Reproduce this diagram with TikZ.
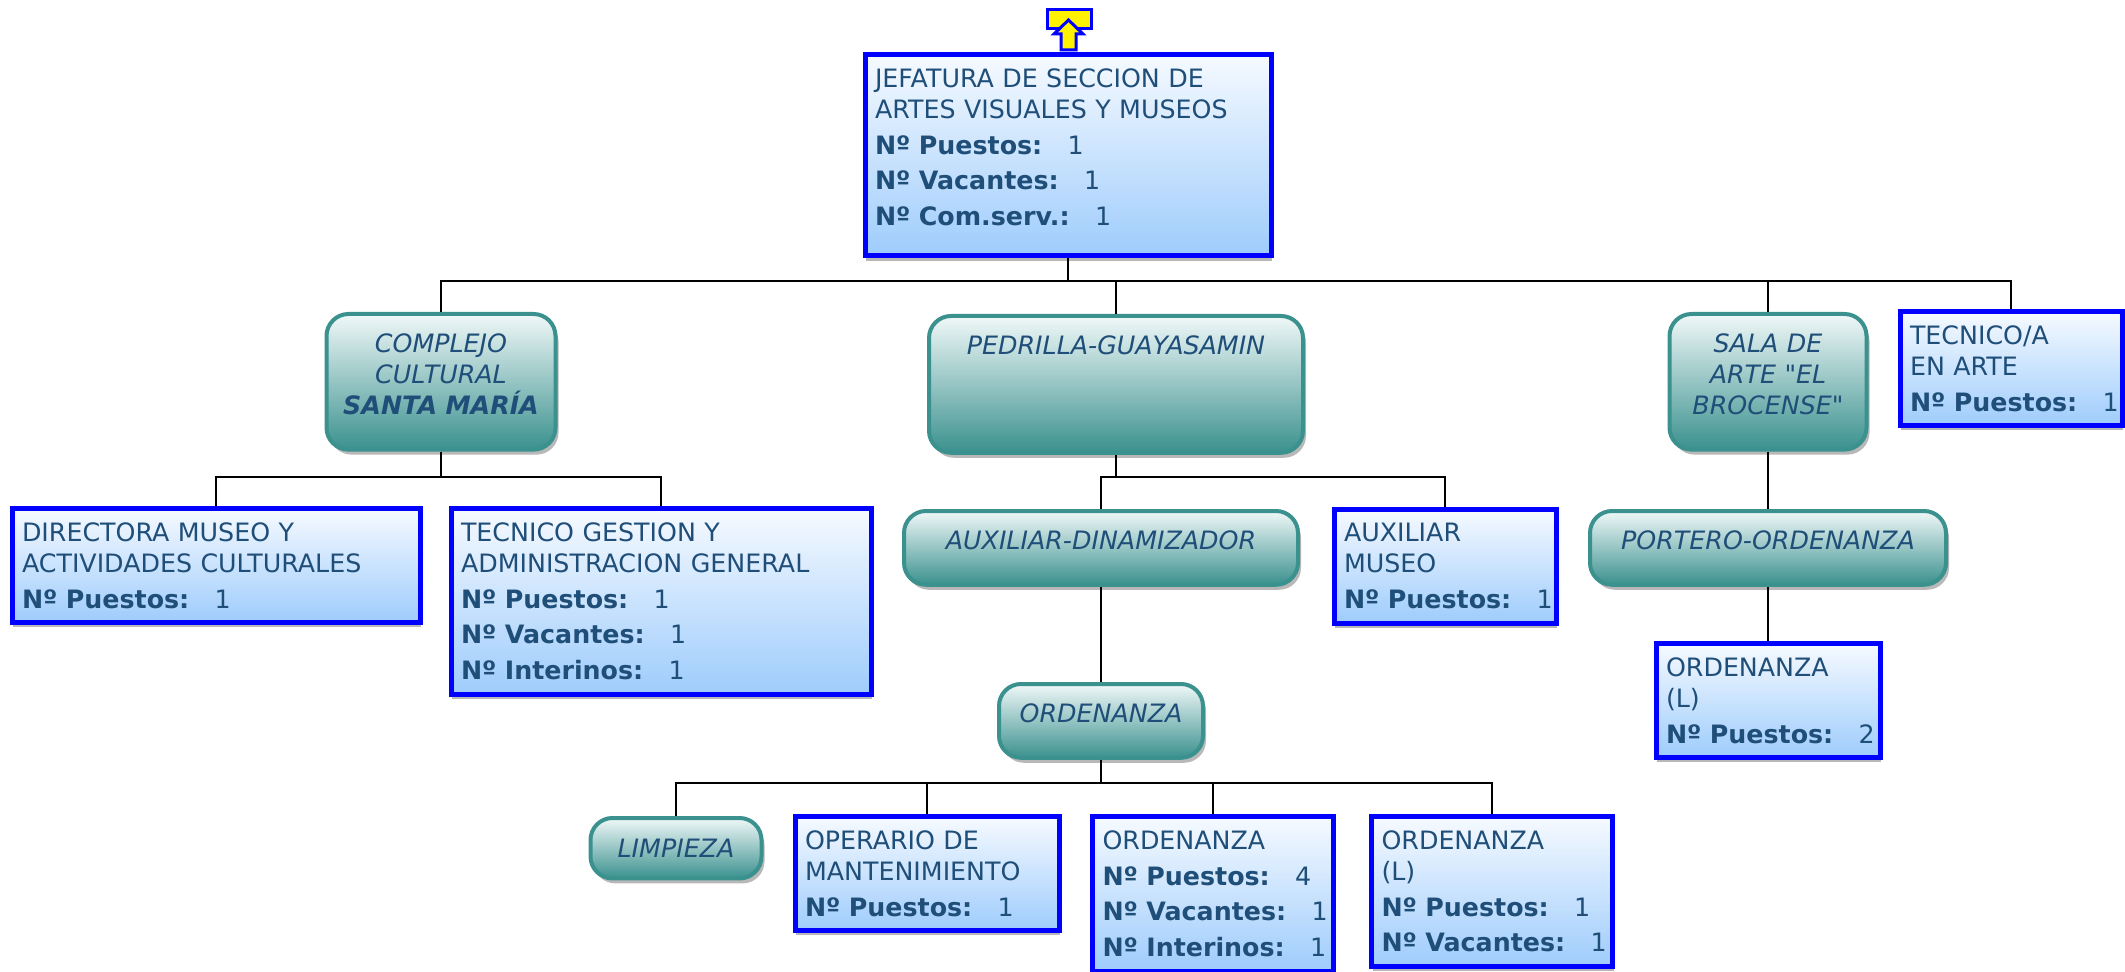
\documentclass[tikz,border=0pt]{standalone}
\usepackage{fontspec}
\setmainfont{DejaVu Sans}[Ligatures=TeXOff]
\usetikzlibrary{shadows}
\definecolor{azultexto}{RGB}{31,78,121}
\definecolor{azulborde}{RGB}{0,0,255}
\definecolor{azulclaro}{RGB}{158,204,252}
\definecolor{azulblanco}{RGB}{246,250,255}
\definecolor{verdeborde}{RGB}{58,145,142}
\definecolor{verdeclaro}{RGB}{240,248,248}
\newcommand{\campo}[2]{\mbox{\textbf{Nº #1:}\quad #2}}
\newcommand{\bajo}[1]{\rule[-#1]{0pt}{#1}}
\tikzset{
  puesto/.style={anchor=north, draw=azulborde, line width=0.5mm,
    top color=azulblanco, bottom color=azulclaro, text=azultexto,
    align=left, text width=#1, inner xsep=1mm, inner ysep=1.4mm,
    font=\fontsize{7.2}{8.8}\selectfont,
    drop shadow={shadow xshift=0.1mm, shadow yshift=-0.5mm, fill=black!28, opacity=1}},
  unidad/.style={anchor=north, draw=verdeborde, line width=0.4mm, rounded corners=2.2mm,
    top color=verdeclaro, bottom color=verdeborde, text=azultexto,
    align=center, text width=#1, inner xsep=1mm, inner ysep=2mm,
    font=\fontsize{7.2}{8.8}\selectfont\itshape,
    drop shadow={shadow xshift=0.3mm, shadow yshift=-0.5mm, fill=black!28, opacity=1}},
  linea/.style={line width=0.6pt, black}
}
\begin{document}
\begin{tikzpicture}[x=0.1mm,y=-0.1mm]
  \useasboundingbox (0,0) rectangle (2125,972);
  \filldraw[fill=yellow, draw=azulborde, line width=0.3mm] (1047,10) rectangle (1091,29);
  \filldraw[fill=yellow, draw=azulborde, line width=0.3mm]
    (1061,50) -- (1061,34) -- (1054,34) -- (1068.5,20) -- (1083,34) -- (1076,34) -- (1076,50) -- cycle;

  \node[puesto=38.6mm] (jefatura) at (1068,52)
    {JEFATURA DE SECCION DE\\ARTES VISUALES Y MUSEOS\\[1.4pt]\campo{Puestos}{1}\\[1.4pt]\campo{Vacantes}{1}\\[1.4pt]\campo{Com.serv.}{1}\bajo{1.6mm}};

  \node[unidad=20.9mm] (complejo) at (441,312) {COMPLEJO\\CULTURAL\\\textbf{SANTA MARÍA}\bajo{1.5mm}};
  \node[unidad=35.4mm] (pedrilla) at (1116,314) {PEDRILLA-GUAYASAMIN\bajo{7.8mm}};
  \node[unidad=17.7mm] (sala) at (1768,312) {SALA DE\\ARTE "EL\\BROCENSE"\bajo{1.5mm}};
  \node[puesto=20.2mm] (tecarte) at (2011,309) {TECNICO/A\\EN ARTE\\[1.4pt]\campo{Puestos}{1}};

  \node[puesto=38.8mm] (directora) at (216,506)
    {DIRECTORA MUSEO Y\\ACTIVIDADES CULTURALES\\[1.4pt]\campo{Puestos}{1}};
  \node[puesto=40mm] (tecgestion) at (661,506)
    {TECNICO GESTION Y\\ADMINISTRACION GENERAL\\[1.4pt]\campo{Puestos}{1}\\[1.4pt]\campo{Vacantes}{1}\\[1.4pt]\campo{Interinos}{1}};
  \node[unidad=37.4mm] (auxdinam) at (1101,509) {AUXILIAR-DINAMIZADOR\bajo{1.5mm}};
  \node[puesto=20.2mm] (auxmuseo) at (1445,507) {AUXILIAR\\MUSEO\\[1.4pt]\campo{Puestos}{1}};
  \node[unidad=33.6mm] (portero) at (1768,509) {PORTERO-ORDENANZA\bajo{1.5mm}};

  \node[unidad=18.4mm] (ordteal) at (1101,682) {ORDENANZA\bajo{1.5mm}};
  \node[puesto=20.4mm] (ordenanzaL2) at (1768,641) {ORDENANZA\\(L)\\[1.4pt]\campo{Puestos}{2}};

  \node[unidad=15.1mm, inner ysep=2.1mm] (limpieza) at (676,816) {LIMPIEZA};
  \node[puesto=24.4mm] (operario) at (927,814) {OPERARIO DE\\MANTENIMIENTO\\[1.4pt]\campo{Puestos}{1}};
  \node[puesto=22.1mm] (ordenanza) at (1213,814)
    {ORDENANZA\\[1.4pt]\campo{Puestos}{4}\\[1.4pt]\campo{Vacantes}{1}\\[1.4pt]\campo{Interinos}{1}};
  \node[puesto=22.1mm] (ordenanzaL) at (1492,814)
    {ORDENANZA\\(L)\\[1.4pt]\campo{Puestos}{1}\\[1.4pt]\campo{Vacantes}{1}};

  \coordinate (nivel1) at (0,281);
  \coordinate (nivel2) at (0,477);
  \coordinate (nivel3) at (0,783);

  \begin{scope}[linea]
    \draw (jefatura.south) to (jefatura.south |- nivel1);
    \draw (complejo.north) |- (tecarte.north |- nivel1) to (tecarte.north);
    \draw (pedrilla.north) to (pedrilla.north |- nivel1);
    \draw (sala.north) to (sala.north |- nivel1);
    \draw (complejo.south) to (complejo.south |- nivel2);
    \draw (directora.north) |- (tecgestion.north |- nivel2) to (tecgestion.north);
    \draw (pedrilla.south) to (pedrilla.south |- nivel2);
    \draw (auxdinam.north) |- (auxmuseo.north |- nivel2) to (auxmuseo.north);
    \draw (auxdinam.south) to (ordteal.north);
    \draw (ordteal.south) to (ordteal.south |- nivel3);
    \draw (limpieza.north) |- (ordenanzaL.north |- nivel3) to (ordenanzaL.north);
    \draw (operario.north) to (operario.north |- nivel3);
    \draw (ordenanza.north) to (ordenanza.north |- nivel3);
    \draw (sala.south) to (portero.north);
    \draw (portero.south) to (ordenanzaL2.north);
  \end{scope}
\end{tikzpicture}
\end{document}
